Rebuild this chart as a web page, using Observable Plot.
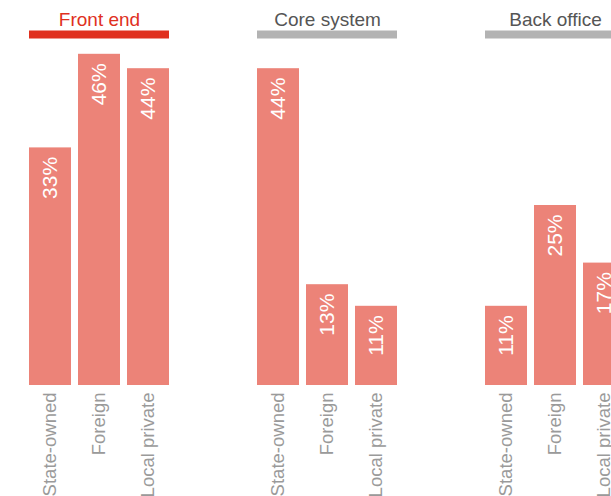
<!DOCTYPE html>
<html>
<head>
<meta charset="utf-8">
<script src="https://cdn.jsdelivr.net/npm/d3@7"></script>
<script src="https://cdn.jsdelivr.net/npm/@observablehq/plot@0.6"></script>
<style>
  html, body { margin: 0; padding: 0; background: #fff; overflow: hidden; }
  #chart { width: 611px; height: 496px; overflow: hidden; }
  #chart svg { max-width: none !important; width: 640px !important; height: 496px !important; }
</style>
</head>
<body>
<div id="chart"></div>
<script>
const facets = ["Front end", "Core system", "Back office"];
const owners = ["State-owned", "Foreign", "Local private"];
const frontEnd = [33, 46, 44];
const coreSystem = [44, 14, 11];
const backOffice = [11, 25, 17];
const frontEndLabels = ["33%", "46%", "44%"];
const coreSystemLabels = ["44%", "13%", "11%"];
const backOfficeLabels = ["11%", "25%", "17%"];
const highlighted = "Front end";

const seriesValues = [frontEnd, coreSystem, backOffice];
const seriesLabels = [frontEndLabels, coreSystemLabels, backOfficeLabels];
const rows = facets.flatMap((f, i) => owners.map((o, j) => ({
  facet: f, owner: o, value: seriesValues[i][j], label: seriesLabels[i][j]
})));
const titles = facets.map(f => ({facet: f}));
const yMax = 48.75;

const FONT = "Liberation Sans";
const RED = "#e0301e", GRAY_BAR = "#b3b3b3", GRAY_TEXT = "#555555";
const BAR = "#ec8378";

const chart = Plot.plot({
  width: 640,
  height: 496,
  marginLeft: 28,
  marginRight: 13,
  marginTop: 34,
  marginBottom: 111,
  style: {fontFamily: FONT, background: "#fff"},
  fx: {domain: facets, paddingInner: 0.384, paddingOuter: 0, axis: null},
  x: {domain: owners, paddingInner: 0.15, paddingOuter: 0, axis: null},
  y: {domain: [0, yMax], axis: null},
  marks: [
    Plot.barY(rows, {fx: "facet", x: "owner", y: "value", fill: BAR}),
    Plot.text(rows, {fx: "facet", x: "owner", y: "value", text: "label",
      rotate: -90, textAnchor: "end", lineAnchor: "middle", dy: 9,
      fill: "white", fontSize: 21, fontFamily: FONT}),
    Plot.text(rows, {fx: "facet", x: "owner", text: "owner", frameAnchor: "bottom",
      rotate: -90, textAnchor: "end", lineAnchor: "middle", dy: 7,
      fill: "#9a9a9a", fontSize: 18.5, fontFamily: FONT}),
    Plot.ruleY(titles.filter(d => d.facet === highlighted),
      {fx: "facet", y: () => yMax, stroke: RED, strokeWidth: 8}),
    Plot.ruleY(titles.filter(d => d.facet !== highlighted),
      {fx: "facet", y: () => yMax, stroke: GRAY_BAR, strokeWidth: 8}),
    Plot.text(titles.filter(d => d.facet === highlighted),
      {fx: "facet", text: "facet", frameAnchor: "top", lineAnchor: "bottom", dy: -9,
       fill: RED, fontSize: 19, fontFamily: FONT}),
    Plot.text(titles.filter(d => d.facet !== highlighted),
      {fx: "facet", text: "facet", frameAnchor: "top", lineAnchor: "bottom", dy: -9,
       fill: GRAY_TEXT, fontSize: 19, fontFamily: FONT})
  ]
});
document.getElementById("chart").appendChild(chart);
</script>
</body>
</html>
